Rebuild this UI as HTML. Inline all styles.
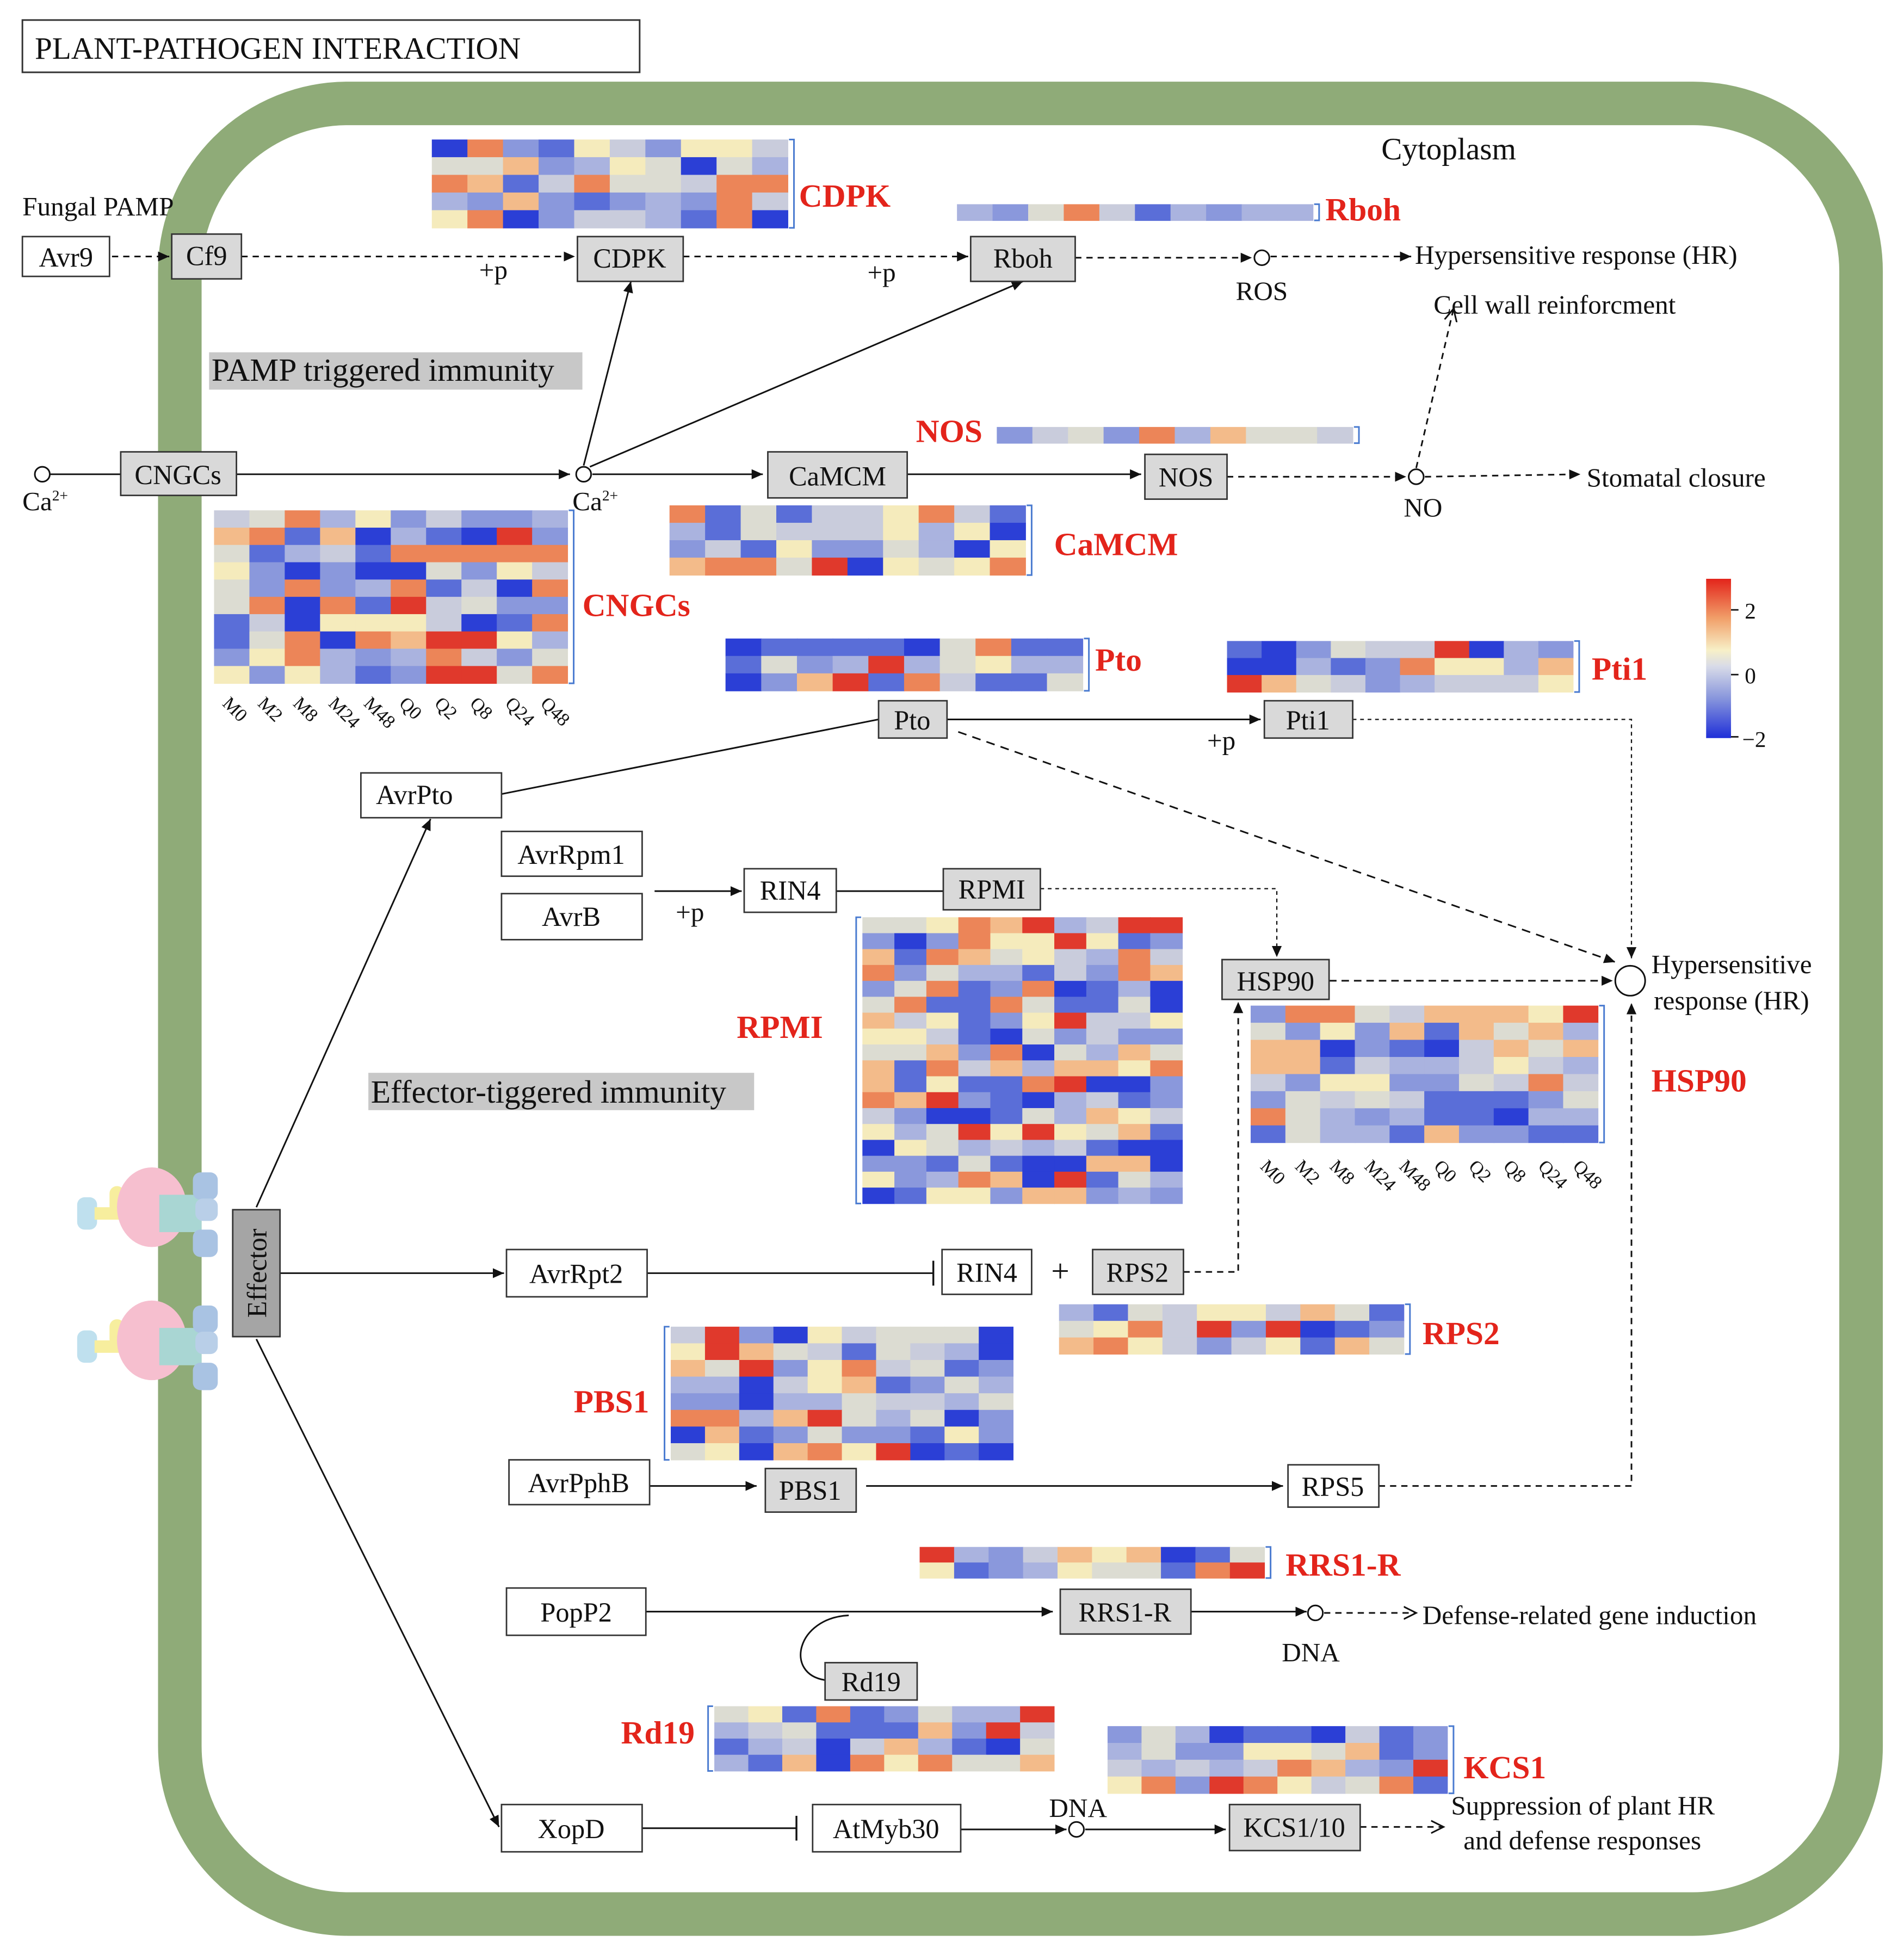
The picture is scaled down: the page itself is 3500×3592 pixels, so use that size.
<!DOCTYPE html>
<html><head><meta charset="utf-8"><style>
html,body{margin:0;padding:0;background:#fff;}
svg{display:block}
text{font-family:"Liberation Serif",serif;fill:#111}
.r{fill:#e3241b;font-weight:bold;font-size:26px}
.n{font-size:22px}
</style></head><body>
<svg id="s" width="3500" height="3592" viewBox="0 0 1530 1570" xmlns="http://www.w3.org/2000/svg">
<defs>
<marker id="a" markerWidth="10" markerHeight="10" refX="9" refY="5" orient="auto" markerUnits="userSpaceOnUse"><path d="M0,1 L9,5 L0,9 z" fill="#111"/></marker>
<marker id="o" markerWidth="12" markerHeight="12" refX="10" refY="6" orient="auto" markerUnits="userSpaceOnUse"><path d="M0,1 L10,6 L0,11" fill="none" stroke="#111" stroke-width="1.3"/></marker>
<marker id="t" markerWidth="4" markerHeight="20" refX="2" refY="10" orient="auto" markerUnits="userSpaceOnUse"><path d="M2,0 L2,20" stroke="#111" stroke-width="1.5"/></marker>
<linearGradient id="cb" x1="0" y1="0" x2="0" y2="1"><stop offset="0" stop-color="#e3241b"/><stop offset="0.25" stop-color="#f1a06a"/><stop offset="0.45" stop-color="#f7f0c8"/><stop offset="0.55" stop-color="#d8dbe8"/><stop offset="0.75" stop-color="#8896dc"/><stop offset="1" stop-color="#1f2fd8"/></linearGradient>
</defs>
<rect x="18" y="16" width="496" height="42" fill="#fff" stroke="#333" stroke-width="1.3"/>
<text x="28" y="47" font-size="25">PLANT-PATHOGEN INTERACTION</text>
<rect x="144.5" y="83" width="1351" height="1455" rx="135" fill="none" stroke="#8fab78" stroke-width="35"/>
<text x="1110" y="128" font-size="25">Cytoplasm</text>

<g id="hm"></g>

<rect x="168" y="283" width="300" height="30" fill="#c8c8c8"/><text x="170" y="306" font-size="26">PAMP triggered immunity</text>
<rect x="296" y="862" width="310" height="30" fill="#c8c8c8"/><text x="298" y="886" font-size="26">Effector-tiggered immunity</text>

<g stroke="#111" stroke-width="1.3" fill="none">
<path d="M90,206 L136,206" stroke-dasharray="5,4" marker-end="url(#a)"/>
<path d="M194,206 L462,206" stroke-dasharray="5,4" marker-end="url(#a)"/>
<path d="M549,206 L778,206" stroke-dasharray="5,4" marker-end="url(#a)"/>
<path d="M864,207 L1006,207" stroke-dasharray="5,4" marker-end="url(#a)"/>
<path d="M1021,206 L1134,206" stroke-dasharray="5,4" marker-end="url(#a)"/>
<path d="M40,381 L97,381"/>
<path d="M190,381 L458,381" marker-end="url(#a)"/>
<path d="M476,381 L613,381" marker-end="url(#a)"/>
<path d="M469,374 L507,226" marker-end="url(#a)"/>
<path d="M474,375 L822,226" marker-end="url(#a)"/>
<path d="M729,381 L917,381" marker-end="url(#a)"/>
<path d="M986,383 L1130,383" stroke-dasharray="5,4" marker-end="url(#a)"/>
<path d="M1145,383 L1270,381" stroke-dasharray="5,4" marker-end="url(#a)"/>
<path d="M1138,376 L1168,248" stroke-dasharray="5,4" marker-end="url(#o)"/>
<path d="M761,578 L1013,578" marker-end="url(#a)"/>
<path d="M403,638 L706,578"/>
<path d="M770,588 L1298,773" stroke-dasharray="7,5" marker-end="url(#a)"/>
<path d="M1087,578 L1311,578 L1311,770" stroke-dasharray="3,3" stroke-width="1" marker-end="url(#a)"/>
<path d="M526,716 L596,716" marker-end="url(#a)"/>
<path d="M672,716 L758,716"/>
<path d="M836,714 L1026,714 L1026,769" stroke-dasharray="3,3" stroke-width="1" marker-end="url(#a)"/>
<path d="M1068,788 L1296,788" stroke-dasharray="6,4" marker-end="url(#a)"/>
<path d="M951,1022 L995,1022 L995,805" stroke-dasharray="5,4" marker-end="url(#a)"/>
<path d="M1108,1194 L1311,1194 L1311,806" stroke-dasharray="5,4" marker-end="url(#a)"/>
<path d="M206,970 L346,658" marker-end="url(#a)"/>
<path d="M225,1023 L405,1023" marker-end="url(#a)"/>
<path d="M206,1076 L401,1468" marker-end="url(#a)"/>
<path d="M520,1023 L750,1023" marker-end="url(#t)"/>
<path d="M522,1194 L608,1194" marker-end="url(#a)"/>
<path d="M696,1194 L1031,1194" marker-end="url(#a)"/>
<path d="M519,1295 L846,1295" marker-end="url(#a)"/>
<path d="M957,1295 L1050,1295" marker-end="url(#a)"/>
<path d="M1064,1296 L1138,1296" stroke-dasharray="5,4" marker-end="url(#o)"/>
<path d="M682,1298 C640,1300 630,1345 663,1350"/>
<path d="M516,1469 L640,1469" marker-end="url(#t)"/>
<path d="M772,1470 L857,1470" marker-end="url(#a)"/>
<path d="M872,1470 L985,1470" marker-end="url(#a)"/>
<path d="M1093,1468 L1160,1468" stroke-dasharray="5,4" marker-end="url(#o)"/>
</g>
<g fill="#fff" stroke="#111" stroke-width="1.3">
<circle cx="34" cy="381" r="6"/><circle cx="469" cy="381" r="6"/><circle cx="1014" cy="207" r="6"/>
<circle cx="1138" cy="383" r="6"/><circle cx="1057" cy="1296" r="6"/><circle cx="865" cy="1470" r="6"/>
<circle cx="1310" cy="788" r="12"/>
</g>

<g stroke="#333" stroke-width="1.2">
<g fill="#fff">
<rect x="18" y="190" width="70" height="32"/><rect x="290" y="621" width="113" height="36"/>
<rect x="403" y="668" width="113" height="36"/><rect x="403" y="718" width="113" height="37"/>
<rect x="598" y="698" width="74" height="35"/><rect x="407" y="1004" width="113" height="38"/>
<rect x="757" y="1004" width="72" height="36"/><rect x="409" y="1173" width="113" height="36"/>
<rect x="1035" y="1177" width="73" height="34"/><rect x="407" y="1276" width="112" height="38"/>
<rect x="403" y="1450" width="113" height="38"/><rect x="653" y="1450" width="119" height="38"/>
</g>
<g fill="#d9d9d9">
<rect x="138" y="188" width="56" height="36"/><rect x="464" y="190" width="85" height="36"/>
<rect x="780" y="190" width="84" height="36"/><rect x="97" y="363" width="93" height="35"/>
<rect x="617" y="363" width="112" height="37"/><rect x="920" y="365" width="66" height="36"/>
<rect x="706" y="563" width="55" height="30"/><rect x="1016" y="563" width="71" height="30"/>
<rect x="758" y="698" width="78" height="33"/><rect x="982" y="771" width="86" height="32"/>
<rect x="878" y="1004" width="73" height="36"/><rect x="615" y="1180" width="73" height="35"/>
<rect x="852" y="1277" width="105" height="36"/><rect x="663" y="1336" width="74" height="30"/>
<rect x="988" y="1450" width="105" height="37"/>
<rect x="187" y="972" width="38" height="102" fill="#a5a5a5"/>
</g>
</g>
<g class="n" text-anchor="middle">
<text x="53" y="214">Avr9</text><text x="166" y="213">Cf9</text><text x="506" y="215">CDPK</text>
<text x="822" y="215">Rboh</text><text x="143" y="389">CNGCs</text><text x="673" y="390">CaMCM</text>
<text x="953" y="391">NOS</text><text x="733" y="586">Pto</text><text x="1051" y="586">Pti1</text>
<text x="333" y="646">AvrPto</text><text x="459" y="694">AvrRpm1</text><text x="459" y="744">AvrB</text>
<text x="635" y="723">RIN4</text><text x="797" y="722">RPMI</text><text x="1025" y="796">HSP90</text>
<text x="463" y="1031">AvrRpt2</text><text x="793" y="1030">RIN4</text><text x="914" y="1030">RPS2</text>
<text x="465" y="1199">AvrPphB</text><text x="651" y="1205">PBS1</text><text x="1071" y="1202">RPS5</text>
<text x="463" y="1303">PopP2</text><text x="904" y="1303">RRS1-R</text><text x="700" y="1359">Rd19</text>
<text x="459" y="1477">XopD</text><text x="712" y="1477">AtMyb30</text><text x="1040" y="1476">KCS1/10</text>
<text x="852" y="1030" font-size="26">+</text>
</g>
<text transform="translate(214,1023) rotate(-90)" text-anchor="middle" font-size="22">Effector</text>
<g font-size="21.5">
<text x="18" y="173">Fungal PAMP</text>
<text x="385" y="224">+p</text><text x="697" y="226">+p</text><text x="970" y="602">+p</text><text x="543" y="740">+p</text>
<text x="18" y="410">Ca<tspan font-size="12" dy="-8">2+</tspan></text>
<text x="460" y="410">Ca<tspan font-size="12" dy="-8">2+</tspan></text>
<text x="993" y="241">ROS</text><text x="1128" y="415">NO</text>
<text x="1137" y="212">Hypersensitive response (HR)</text>
<text x="1152" y="252">Cell wall reinforcment</text>
<text x="1275" y="391">Stomatal closure</text>
<text x="1327" y="782">Hypersensitive</text><text x="1329" y="811">response (HR)</text>
<text x="1143" y="1305">Defense-related gene induction</text>
<text x="1030" y="1335">DNA</text><text x="843" y="1460">DNA</text>
<text x="1166" y="1458">Suppression of plant HR</text><text x="1176" y="1486">and defense responses</text>
</g>
<text class="r" x="642" y="166">CDPK</text><text class="r" x="1065" y="177">Rboh</text>
<text class="r" x="736" y="355">NOS</text><text class="r" x="847" y="446">CaMCM</text>
<text class="r" x="468" y="495">CNGCs</text><text class="r" x="880" y="539">Pto</text>
<text class="r" x="1279" y="546">Pti1</text><text class="r" x="592" y="834">RPMI</text>
<text class="r" x="1327" y="877">HSP90</text><text class="r" x="1143" y="1080">RPS2</text>
<text class="r" x="461" y="1135">PBS1</text><text class="r" x="1033" y="1266">RRS1-R</text>
<text class="r" x="499" y="1401">Rd19</text><text class="r" x="1176" y="1429">KCS1</text>

<rect x="1371" y="465" width="20" height="128" fill="url(#cb)"/>
<g stroke="#111" stroke-width="1.2"><path d="M1391,490 h6 M1391,542 h6 M1391,592 h6"/></g>
<text x="1402" y="497" font-size="18">2</text><text x="1402" y="549" font-size="18">0</text><text x="1400" y="600" font-size="18">−2</text>

<g id="rec">
<g>
<rect x="62" y="962" width="16" height="26" rx="6" fill="#bfe0ee"/>
<rect x="76" y="970" width="30" height="10" fill="#f7ee9e"/>
<rect x="88" y="953" width="12" height="22" rx="6" fill="#f7ee9e"/>
<ellipse cx="122" cy="970" rx="28" ry="32" fill="#f6bfcf"/>
<rect x="128" y="960" width="34" height="30" fill="#a9d6d3"/>
<rect x="155" y="942" width="20" height="22" rx="6" fill="#a9c3e3"/>
<rect x="157" y="963" width="18" height="18" rx="6" fill="#b9cfe8"/>
<rect x="155" y="988" width="20" height="22" rx="6" fill="#a9c3e3"/>
</g>
<g transform="translate(0,107)">
<rect x="62" y="962" width="16" height="26" rx="6" fill="#bfe0ee"/>
<rect x="76" y="970" width="30" height="10" fill="#f7ee9e"/>
<rect x="88" y="953" width="12" height="22" rx="6" fill="#f7ee9e"/>
<ellipse cx="122" cy="970" rx="28" ry="32" fill="#f6bfcf"/>
<rect x="128" y="960" width="34" height="30" fill="#a9d6d3"/>
<rect x="155" y="942" width="20" height="22" rx="6" fill="#a9c3e3"/>
<rect x="157" y="963" width="18" height="18" rx="6" fill="#b9cfe8"/>
<rect x="155" y="988" width="20" height="22" rx="6" fill="#a9c3e3"/>
</g>
</g>
<g id="lab" font-size="15" fill="#444"></g>
</svg>
<script>
(function(){
var seed=7;function rnd(){seed=(seed*16807)%2147483647;return seed/2147483647;}
var pal=["#2b3fd6","#5a6ed8","#8a98dc","#aab3df","#c9ccdc","#dcdcd2","#f5ebbc","#f3bb8a","#ec8558","#e0392c"];
var w=[8,14,14,12,12,10,9,8,8,5];var tot=w.reduce(function(a,b){return a+b},0);
function pick(){var r=rnd()*tot;for(var i=0;i<w.length;i++){r-=w[i];if(r<=0)return pal[i];}return pal[4];}
var NS="http://www.w3.org/2000/svg",g=document.getElementById("hm");
function el(n,a){var e=document.createElementNS(NS,n);for(var k in a)e.setAttribute(k,a[k]);g.appendChild(e);return e;}
function hm(x,y,W,H,rows,br){var cw=W/10,rh=H/rows;for(var r=0;r<rows;r++)for(var c=0;c<10;c++)el("rect",{x:x+c*cw,y:y+r*rh,width:cw+0.4,height:rh+0.4,fill:pick()});
 var d=br=="L"?"M"+(x-1)+","+y+" h-4 v"+H+" h4":"M"+(x+W+1)+","+y+" h4 v"+H+" h-4";
 el("path",{d:d,fill:"none",stroke:"#4a7bd0","stroke-width":1.3});}
hm(347,112,286,71,5,"R");hm(769,164,286,13,1,"N");hm(801,343,286,13,1,"N");
hm(172,410,284,139,10,"R");hm(538,406,286,56,4,"R");hm(583,513,287,42,3,"R");
hm(986,515,278,41,3,"R");hm(693,737,257,230,18,"L");hm(1005,808,279,110,8,"R");
hm(851,1048,277,40,3,"R");hm(539,1066,275,107,8,"L");hm(739,1243,277,25,2,"R");
hm(574,1371,273,52,4,"L");hm(890,1387,273,54,4,"R");
var labs=["M0","M2","M8","M24","M48","Q0","Q2","Q8","Q24","Q48"],L=document.getElementById("lab");
function cl(x0,y0,cw){for(var i=0;i<10;i++){var t=document.createElementNS(NS,"text");var x=x0+i*cw;t.setAttribute("x",x);t.setAttribute("y",y0);t.setAttribute("transform","rotate(45 "+x+" "+y0+")");t.setAttribute("font-family","Liberation Sans, sans-serif");t.setAttribute("font-size","15");t.setAttribute("fill","#444");t.textContent=labs[i];L.appendChild(t);}}
cl(178,566,28.4);cl(1012,938,27.9);
})();
</script>
</body></html>
